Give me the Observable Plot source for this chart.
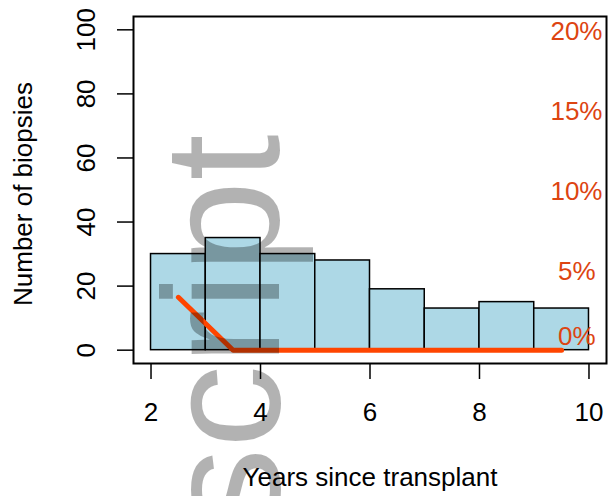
<!DOCTYPE html>
<html>
<head>
<meta charset="utf-8">
<script src="https://cdn.jsdelivr.net/npm/d3@7"></script>
<script src="https://cdn.jsdelivr.net/npm/@observablehq/plot@0.6"></script>
<style>
  html, body { margin: 0; padding: 0; background: white; }
</style>
</head>
<body>
<div id="chart"></div>
<script>
// Histogram bins (left edges, width 1 year) and counts
const binStarts = [2, 3, 4, 5, 6, 7, 8, 9];
const binCounts = [30, 35, 30, 28, 19, 13, 15, 13];
// Percentage line at bin midpoints
const lineYears = [2.5, 3.5, 4.5, 5.5, 6.5, 7.5, 8.5, 9.5];
const linePct = [3.3, 0, 0, 0, 0, 0, 0, 0];
// Axis ticks
const xTicks = [2, 4, 6, 8, 10];
const yTicks = [0, 20, 40, 60, 80, 100];
const pctTicks = [0, 5, 10, 15, 20];
const pctScale = 5; // 20% corresponds to 100 on the left axis
const watermark = "Manuscript";
const xLabel = "Years since transplant";
const yLabel = "Number of biopsies";

const bars = binStarts.map((s, i) => ({x1: s, x2: s + 1, n: binCounts[i]}));
const line = lineYears.map((x, i) => ({x, v: linePct[i] * pctScale}));
const pctLabels = pctTicks.map(p => ({p, v: p * pctScale, label: p + "%"}));

const orange = "#FF4500";
const labelColor = "#DD4411";

const chart = Plot.plot({
  width: 609,
  height: 496,
  marginLeft: 133,
  marginRight: 3,
  marginTop: 16,
  marginBottom: 133,
  x: {domain: [1.68, 10.32]},
  y: {domain: [-4.16, 104.16]},
  style: {fontFamily: "'Liberation Sans', Arial, Helvetica, sans-serif", fontSize: "26px", background: "white", color: "black"},
  marks: [
    Plot.rect(bars, {x1: "x1", x2: "x2", y1: 0, y2: "n", fill: "#ADD8E6", stroke: "black", strokeWidth: 1.5}),
    Plot.line(line, {x: "x", y: "v", stroke: orange, strokeWidth: 5, strokeLinecap: "round"}),
    Plot.frame({stroke: "black", strokeWidth: 2}),
    Plot.axisX({ticks: xTicks, tickSize: 16, tickFormat: () => "", label: null, strokeWidth: 1.5}),
    Plot.axisY({ticks: yTicks, tickSize: 16, tickFormat: () => "", label: null, strokeWidth: 1.5}),
    Plot.text(xTicks, {x: d => d, text: d => String(d), frameAnchor: "bottom", dy: 39, lineAnchor: "top", fontSize: 26, fill: "black"}),
    Plot.text(yTicks, {y: d => d, text: d => String(d), frameAnchor: "left", dx: -47, rotate: -90, textAnchor: "middle", lineAnchor: "middle", fontSize: 26, fill: "black"}),
    Plot.text(pctLabels, {filter: d => d.p >= 10, y: "v", text: "label", frameAnchor: "right", textAnchor: "end", dx: -4, dy: 2, fontSize: 26, fill: labelColor}),
    Plot.text(pctLabels, {filter: d => d.p === 5, y: "v", text: "label", frameAnchor: "right", textAnchor: "end", dx: -11, dy: 2, fontSize: 26, fill: labelColor}),
    Plot.text(pctLabels, {filter: d => d.p === 0, y: "v", text: "label", frameAnchor: "right", textAnchor: "end", dx: -11, dy: -14, fontSize: 26, fill: labelColor}),
    Plot.text([xLabel], {text: d => d, frameAnchor: "bottom", dy: 114, lineAnchor: "middle", fontSize: 26, fill: "black"}),
    Plot.text([yLabel], {text: d => d, frameAnchor: "left", dx: -110, dy: 4, rotate: -90, textAnchor: "middle", lineAnchor: "middle", fontSize: 26, fill: "black"}),
    Plot.text([watermark], {text: d => d, frameAnchor: "top-left", dx: 92, dy: 118, rotate: -90, textAnchor: "end", lineAnchor: "middle", fontSize: 166, fill: "black", fillOpacity: 0.3})
  ]
});
document.getElementById("chart").appendChild(chart);
</script>
</body>
</html>
